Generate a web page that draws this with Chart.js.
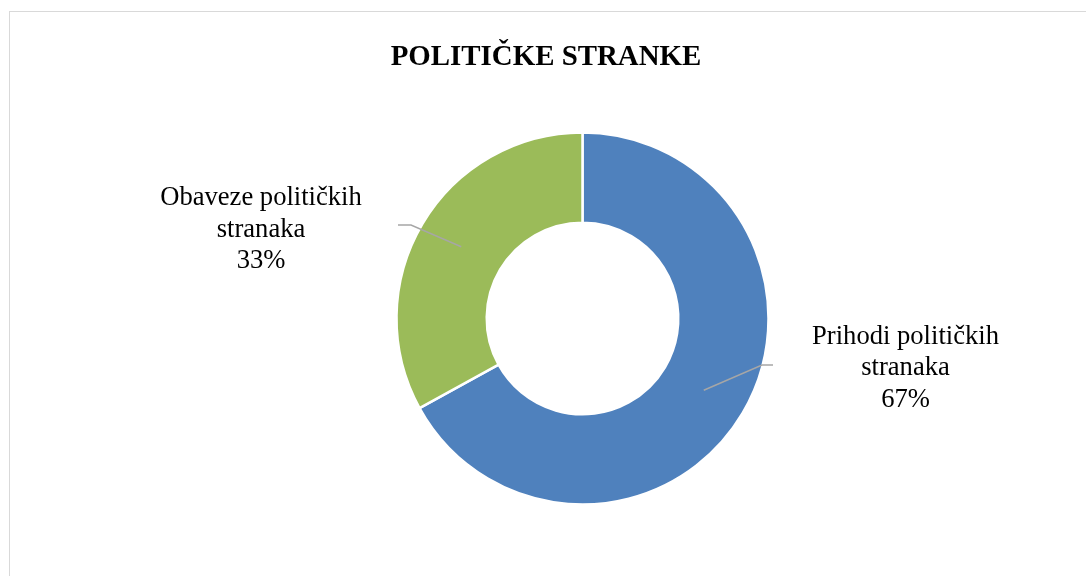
<!DOCTYPE html>
<html>
<head>
<meta charset="utf-8">
<script src="https://cdn.jsdelivr.net/npm/chart.js@4/dist/chart.umd.min.js"></script>
<style>
  html, body { margin: 0; padding: 0; background: #ffffff; overflow: hidden; }
  #wrap { position: relative; width: 1086px; height: 576px; }
  #frame { position: absolute; left: 9px; top: 11px; width: 1100px; height: 600px; border: 1px solid #d9d9d9; box-sizing: border-box; pointer-events: none; }
  canvas { position: absolute; left: 0; top: 0; }
</style>
</head>
<body>
<div id="wrap">
  <div id="frame"></div>
  <canvas id="c" width="1086" height="576"></canvas>
</div>
<script>
// ---- data ----
const chartTitle = "POLITIČKE STRANKE";
const categories = [["Prihodi političkih", "stranaka"], ["Obaveze političkih", "stranaka"]];
const values = [67, 33];
const colors = ["#4F81BD", "#9BBB59"];

// ---- label layout (offsets relative to doughnut centre) ----
const labelCenters = [[323, 25], [-321.5, -113.5]];      // x centre, baseline of first line
const leaderElbows = [[179.5, 46.5], [-171.5, -93.5]];
const leaderEnds = [[190.5, 46.5], [-184.5, -93.5]];
const lineGap = 31.5;

const FONT = '"Liberation Serif", "Times New Roman", serif';

const labelPlugin = {
  id: 'labelPlugin',
  afterDraw(chart) {
    const ctx = chart.ctx;
    const meta = chart.getDatasetMeta(0);
    const total = values.reduce((a, b) => a + b, 0);
    ctx.save();
    // title
    ctx.fillStyle = '#000000';
    ctx.font = 'bold 28.9px ' + FONT;
    ctx.textAlign = 'center';
    ctx.textBaseline = 'alphabetic';
    ctx.fillText(chartTitle, 546, 64.5);

    meta.data.forEach((arc, i) => {
      const p = arc.getProps(['x', 'y', 'startAngle', 'endAngle', 'innerRadius', 'outerRadius']);
      const mid = (p.startAngle + p.endAngle) / 2;
      const r = (p.innerRadius + p.outerRadius) / 2;
      const sx = p.x + Math.cos(mid) * r;
      const sy = p.y + Math.sin(mid) * r;
      // leader line
      ctx.strokeStyle = '#A6A6A6';
      ctx.lineWidth = 1.5;
      ctx.beginPath();
      ctx.moveTo(sx, sy);
      ctx.lineTo(p.x + leaderElbows[i][0], p.y + leaderElbows[i][1]);
      ctx.lineTo(p.x + leaderEnds[i][0], p.y + leaderEnds[i][1]);
      ctx.stroke();
      // label text
      const pct = Math.round(values[i] / total * 100) + '%';
      const lines = categories[i].concat([pct]);
      ctx.fillStyle = '#000000';
      ctx.font = '26.6px ' + FONT;
      ctx.textAlign = 'center';
      const lx = p.x + labelCenters[i][0];
      const ly = p.y + labelCenters[i][1];
      lines.forEach((t, k) => ctx.fillText(t, lx, ly + k * lineGap));
    });
    ctx.restore();
  }
};

new Chart(document.getElementById('c'), {
  type: 'doughnut',
  data: {
    labels: categories.map(c => c.join(' ')),
    datasets: [{
      data: values,
      backgroundColor: colors,
      borderColor: '#ffffff',
      borderWidth: 2.5,
      hoverOffset: 0
    }]
  },
  options: {
    responsive: false,
    animation: false,
    radius: 186,
    cutout: '51.5%',
    layout: { padding: { left: 100, right: 21, top: 80, bottom: 19 } },
    plugins: {
      legend: { display: false },
      title: { display: false },
      tooltip: { enabled: false }
    }
  },
  plugins: [labelPlugin]
});
</script>
</body>
</html>
